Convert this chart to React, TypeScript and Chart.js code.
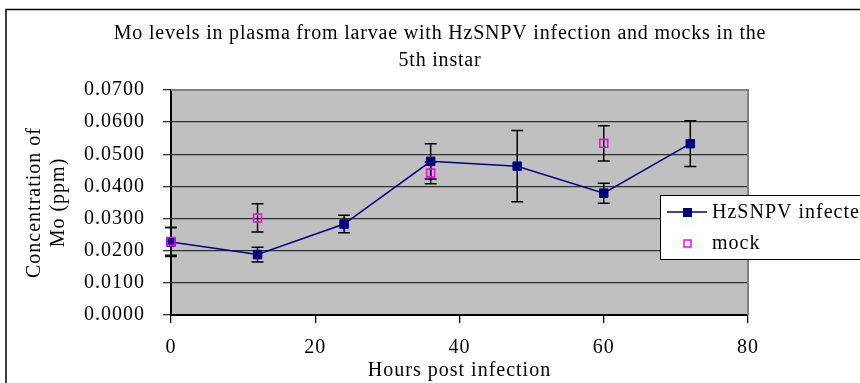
import React, { useEffect, useRef } from "react";
import { Chart, registerables } from "chart.js";

Chart.register(...registerables);

// ---- data ----
const titleLines = [
  "Mo levels in plasma from larvae with HzSNPV infection and mocks in the",
  "5th instar",
];
const xAxisTitle = "Hours post infection";
const yAxisTitle = ["Concentration of", "Mo (ppm)"];
const seriesNames = ["HzSNPV infected", "mock"];

const hours = [0, 12, 24, 36, 48, 60, 72];
const infected = [0.0227, 0.0188, 0.0283, 0.0478, 0.0463, 0.0379, 0.0533];
const infectedErr = [0.0045, 0.0023, 0.0027, 0.0055, 0.0111, 0.0031, 0.0071];

const mockHours = [0, 12, 36, 60];
const mock = [0.0229, 0.0302, 0.0442, 0.0534];
const mockErr = [0.0043, 0.0044, 0.0034, 0.0055];

const xMin = 0;
const xMax = 80;
const xStep = 20;
const yMin = 0;
const yMax = 0.07;
const yStep = 0.01;

const FONT = "'Liberation Serif', 'Times New Roman', serif";
const NAVY = "#000080";
const MAGENTA = "#ff00ff";

export default function App() {
  const ref = useRef<HTMLCanvasElement>(null);

  useEffect(() => {
    const canvas = ref.current!;
    const setSpacing = (chart: any) => {
      (chart.ctx as any).letterSpacing = "1px";
    };

    const errs = [mockErr, infectedErr];

    const plugin = {
      id: "custom",
      beforeUpdate(chart: any) {
        setSpacing(chart);
      },
      beforeLayout(chart: any) {
        setSpacing(chart);
      },
      beforeDraw(chart: any) {
        setSpacing(chart);
        const { ctx, chartArea: a } = chart;
        ctx.save();
        ctx.fillStyle = "#ffffff";
        ctx.fillRect(0, 0, chart.width, chart.height);
        ctx.fillStyle = "#c0c0c0";
        ctx.fillRect(a.left, a.top, a.right - a.left, a.bottom - a.top);
        ctx.restore();
      },
      beforeDatasetsDraw(chart: any) {
        const { ctx, chartArea: a } = chart;
        const ys = chart.scales.y;
        ctx.save();
        // top & right plot border
        ctx.strokeStyle = "#808080";
        ctx.lineWidth = 2;
        ctx.beginPath();
        ctx.moveTo(a.left, a.top);
        ctx.lineTo(a.right, a.top);
        ctx.lineTo(a.right, a.bottom);
        ctx.stroke();
        // error bars
        ctx.strokeStyle = "#000";
        ctx.lineWidth = 1.5;
        chart.data.datasets.forEach((ds: any, di: number) => {
          const meta = chart.getDatasetMeta(di);
          const e = errs[di];
          meta.data.forEach((pt: any, i: number) => {
            const v = ds.data[i].y;
            const x = pt.x;
            const y1 = ys.getPixelForValue(v + e[i]);
            const y2 = ys.getPixelForValue(v - e[i]);
            ctx.beginPath();
            ctx.moveTo(x, y1);
            ctx.lineTo(x, y2);
            ctx.moveTo(x - 6, y1);
            ctx.lineTo(x + 6, y1);
            ctx.moveTo(x - 6, y2);
            ctx.lineTo(x + 6, y2);
            ctx.stroke();
          });
        });
        ctx.restore();
      },
      afterDraw(chart: any) {
        const { ctx } = chart;
        ctx.save();
        (ctx as any).letterSpacing = "0.8px";
        ctx.fillStyle = "#000";
        ctx.textAlign = "center";
        ctx.textBaseline = "middle";
        ctx.font = `20px ${FONT}`;
        ctx.fillText(titleLines[0], 440, 34);
        ctx.fillText(titleLines[1], 440, 61);

        (ctx as any).letterSpacing = "1px";
        // legend
        ctx.fillStyle = "#fff";
        ctx.fillRect(660, 195, 230, 64);
        ctx.strokeStyle = "#000";
        ctx.lineWidth = 1;
        ctx.strokeRect(660.5, 195.5, 230, 64);
        ctx.strokeStyle = NAVY;
        ctx.lineWidth = 1.5;
        ctx.beginPath();
        ctx.moveTo(667, 212);
        ctx.lineTo(707, 212);
        ctx.stroke();
        ctx.fillStyle = NAVY;
        ctx.fillRect(683, 208, 9, 9);
        ctx.strokeStyle = MAGENTA;
        ctx.lineWidth = 1.5;
        ctx.strokeRect(684, 240, 7, 7);
        ctx.fillStyle = "#000";
        ctx.textAlign = "left";
        ctx.fillText(seriesNames[0], 712, 213);
        ctx.fillText(seriesNames[1], 712, 244);

        // outer chart border
        ctx.strokeStyle = "#000";
        ctx.lineWidth = 1.5;
        ctx.strokeRect(6, 9.5, 1000, 1000);
        ctx.restore();
      },
    };

    const chart = new Chart(canvas, {
      type: "scatter",
      data: {
        datasets: [
          {
            label: seriesNames[1],
            data: mockHours.map((h, i) => ({ x: h, y: mock[i] })),
            showLine: false,
            clip: false,
            pointStyle: "rect",
            pointRadius: 5.6,
            pointBackgroundColor: "rgba(0,0,0,0)",
            pointBorderColor: MAGENTA,
            pointBorderWidth: 1.6,
            order: 0,
          },
          {
            label: seriesNames[0],
            data: hours.map((h, i) => ({ x: h, y: infected[i] })),
            showLine: true,
            clip: false,
            borderColor: NAVY,
            borderWidth: 1.5,
            pointStyle: "rect",
            pointRadius: 6,
            pointBackgroundColor: NAVY,
            pointBorderColor: NAVY,
            pointBorderWidth: 1,
            order: 1,
          } as any,
        ],
      },
      options: {
        responsive: false,
        animation: false,
        devicePixelRatio: 1,
        layout: { padding: { left: 10, top: 90, right: 112, bottom: 0 } },
        plugins: {
          legend: { display: false },
          title: { display: false },
          tooltip: { enabled: false },
        },
        scales: {
          x: {
            type: "linear",
            min: xMin,
            max: xMax,
            afterFit(scale: any) {
              scale.height = 68;
            },
            ticks: {
              stepSize: xStep,
              color: "#000",
              padding: 13,
              font: { family: FONT, size: 20 },
            },
            grid: {
              drawOnChartArea: false,
              drawTicks: true,
              tickLength: 8,
              color: "#000",
              lineWidth: 1.3,
            },
            border: { color: "#000", width: 2 },
            title: {
              display: true,
              text: xAxisTitle,
              color: "#000",
              padding: { top: 0, bottom: 0 },
              font: { family: FONT, size: 20 },
            },
          },
          y: {
            type: "linear",
            min: yMin,
            max: yMax,
            afterFit(scale: any) {
              scale.width = 161;
            },
            ticks: {
              stepSize: yStep,
              color: "#000",
              padding: 18,
              font: { family: FONT, size: 20 },
              callback: (v: any) => Number(v).toFixed(4),
            },
            grid: {
              color: "#303030",
              lineWidth: 1.3,
              tickLength: 8,
              drawTicks: true,
            },
            border: { color: "#000", width: 2 },
            title: {
              display: true,
              text: yAxisTitle,
              color: "#000",
              padding: { top: 13, bottom: 0 },
              font: { family: FONT, size: 20 },
            },
          },
        },
      },
      plugins: [plugin],
    } as any);

    return () => chart.destroy();
  }, []);

  return (
    <div
      style={{
        position: "fixed",
        left: 0,
        top: 0,
        width: 860,
        height: 383,
        overflow: "hidden",
        background: "#fff",
      }}
    >
      <canvas ref={ref} width={860} height={383} style={{ display: "block" }} />
    </div>
  );
}
